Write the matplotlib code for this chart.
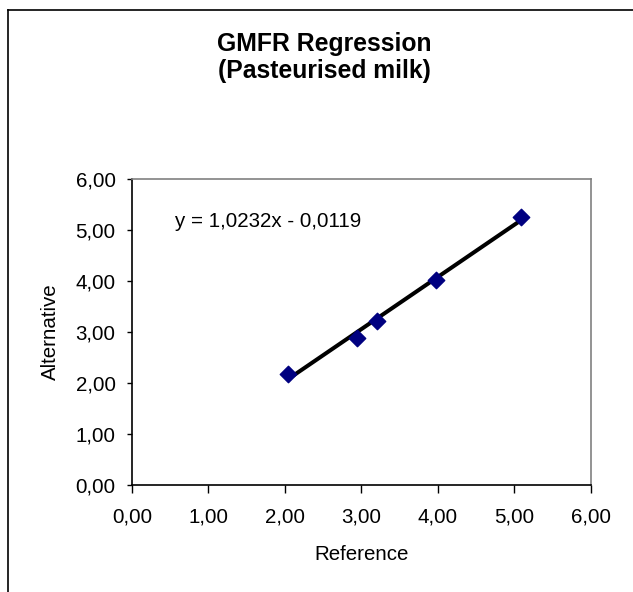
import matplotlib
matplotlib.use("Agg")
import matplotlib.pyplot as plt
from matplotlib.lines import Line2D
from matplotlib.ticker import FuncFormatter

plt.rcParams['font.family'] = ['Liberation Sans', 'DejaVu Sans']

# data
reference = [2.04, 2.94, 3.20, 3.97, 5.09]
alternative = [2.18, 2.89, 3.21, 4.02, 5.25]
slope = 1.0232
intercept = -0.0119
ticks = [0, 1, 2, 3, 4, 5, 6]

fig = plt.figure(figsize=(6.33, 5.92), dpi=100)
ax = fig.add_axes([0.2085, 0.1807, 0.725, 0.5169])

# fitted line over the data range
x0, x1 = min(reference), max(reference)
ax.plot([x0, x1], [slope * x0 + intercept, slope * x1 + intercept],
        color="black", lw=2.9, solid_capstyle="butt", zorder=2)
ax.scatter(reference, alternative, marker="D", s=70, color="#000080",
           edgecolors="#000080", zorder=3)

ax.set_xlim(0, 6)
ax.set_ylim(0, 6)
ax.set_xticks(ticks)
ax.set_yticks(ticks)
fmt = FuncFormatter(lambda v, p: ("%.2f" % v).replace(".", ","))
ax.xaxis.set_major_formatter(fmt)
ax.yaxis.set_major_formatter(fmt)
ax.tick_params(direction="out", width=1, labelsize=14.8, colors="black")
ax.tick_params(axis="x", length=5.5, pad=11)
ax.tick_params(axis="y", length=3.8, pad=8)

for s in ["top", "right"]:
    ax.spines[s].set_color("#808080")
for s in ["left", "bottom"]:
    ax.spines[s].set_color("black")
for s in ax.spines.values():
    s.set_linewidth(1.2)

ax.set_xlabel("Reference", fontsize=14.8, va="baseline")
ax.xaxis.set_label_coords(0.5, (485 - 560) / 306)
ax.set_ylabel("Alternative", fontsize=14.8, va="center", ha="center")
ax.yaxis.set_label_coords((50 - 132) / 459, 0.5)

ax.text(0.562, 5.065, "y = 1,0232x - 0,0119", fontsize=14.8, va="baseline", ha="left")

fig.text(0.5126, 1 - 51 / 592, "GMFR Regression", ha="center", va="baseline",
         fontsize=17.8, fontweight="bold")
fig.text(0.5126, 1 - 78 / 592, "(Pasteurised milk)", ha="center", va="baseline",
         fontsize=17.8, fontweight="bold")

# chart area border
fig.add_artist(Line2D([8 / 633, 8 / 633], [0, 1 - 10 / 592], color="black", lw=1.2))
fig.add_artist(Line2D([8 / 633, 1], [1 - 10 / 592, 1 - 10 / 592], color="black", lw=1.2))

fig.savefig("out.png", dpi=100)
